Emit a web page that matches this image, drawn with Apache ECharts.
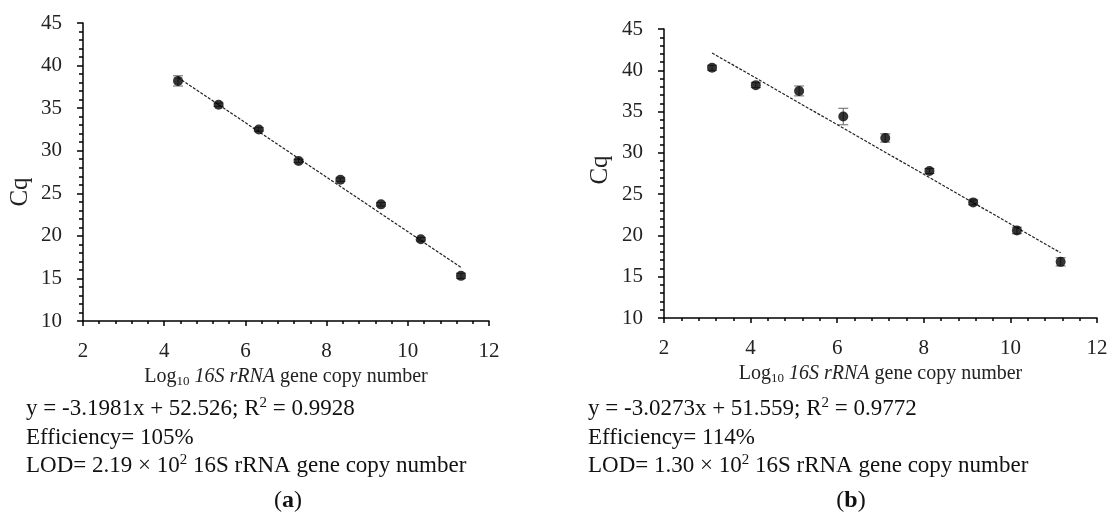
<!DOCTYPE html>
<html>
<head>
<meta charset="utf-8">
<script src="https://cdn.jsdelivr.net/npm/echarts@6/dist/echarts.min.js"></script>
<style>
  html, body { margin: 0; padding: 0; background: #fff; }
  #main { width: 1114px; height: 515px; }
</style>
</head>
<body>
<div id="main"></div>
<script>
// (a) standard curve
const xA = [4.34, 5.34, 6.33, 7.31, 8.34, 9.34, 10.32, 11.31];
const cqA = [38.2, 35.4, 32.5, 28.8, 26.6, 23.7, 19.6, 15.3];
const errA = [0.6, 0.2, 0.2, 0.2, 0.2, 0.2, 0.2, 0.3];
const trendXA = [4.34, 11.31];
const trendYA = [38.6, 16.3];

// (b) standard curve
const xB = [3.11, 4.12, 5.12, 6.14, 7.11, 8.13, 9.14, 10.15, 11.16];
const cqB = [40.3, 38.2, 37.5, 34.4, 31.8, 27.8, 24.0, 20.6, 16.8];
const errB = [0.3, 0.3, 0.6, 1.0, 0.5, 0.3, 0.3, 0.4, 0.5];
const trendXB = [3.11, 11.16];
const trendYB = [42.1, 17.9];

const xTicks = [2, 4, 6, 8, 10, 12];
const yTicks = [10, 15, 20, 25, 30, 35, 40, 45];

const FONT = '"Liberation Serif", "DejaVu Serif", serif';

var chart = echarts.init(document.getElementById('main'));

function zip(xs, ys) {
  return xs.map(function (x, i) { return [x, ys[i]]; });
}

function xAxisCfg(idx) {
  return {
    gridIndex: idx,
    type: 'value',
    min: xTicks[0],
    max: xTicks[xTicks.length - 1],
    interval: 2,
    name: '{n|Log}{sub|10}{it| 16S rRNA}{n| gene copy number}',
    nameLocation: 'middle',
    nameGap: 41,
    nameTextStyle: {
      rich: {
        n: { fontFamily: FONT, fontSize: 20, color: '#222', lineHeight: 22 },
        sub: { fontFamily: FONT, fontSize: 13, color: '#222', verticalAlign: 'bottom', lineHeight: 22 },
        it: { fontFamily: FONT, fontSize: 20, color: '#222', fontStyle: 'italic', lineHeight: 22 }
      }
    },
    axisLine: { onZero: false, lineStyle: { color: '#000', width: 1.5 } },
    axisTick: { show: true, inside: false, length: 5, lineStyle: { color: '#000', width: 1.5 } },
    minorTick: { show: true, splitNumber: 5, length: 3, lineStyle: { color: '#000', width: 1.5 } },
    axisLabel: { margin: 20, fontFamily: FONT, fontSize: 21, color: '#222' },
    splitLine: { show: false }
  };
}

function yAxisCfg(idx) {
  return {
    gridIndex: idx,
    type: 'value',
    min: yTicks[0],
    max: yTicks[yTicks.length - 1],
    interval: 5,
    axisLine: { onZero: false, lineStyle: { color: '#000', width: 1.5 } },
    axisTick: { show: true, inside: false, length: 6, lineStyle: { color: '#000', width: 1.5 } },
    minorTick: { show: true, splitNumber: 5, length: 4, lineStyle: { color: '#000', width: 1.5 } },
    axisLabel: { margin: 21, fontFamily: FONT, fontSize: 21, color: '#222' },
    splitLine: { show: false }
  };
}

// error bars drawn with axis coords
function errSeries(idx, xs, ys, es) {
  return {
    type: 'custom',
    xAxisIndex: idx,
    yAxisIndex: idx,
    z: 1,
    data: xs.map(function (x, i) { return [x, ys[i] - es[i], ys[i] + es[i]]; }),
    renderItem: function (params, api) {
      var lo = api.coord([api.value(0), api.value(1)]);
      var hi = api.coord([api.value(0), api.value(2)]);
      var w = 5;
      var st = { stroke: '#666', lineWidth: 1 };
      return {
        type: 'group',
        children: [
          { type: 'line', shape: { x1: lo[0], y1: lo[1], x2: hi[0], y2: hi[1] }, style: st },
          { type: 'line', shape: { x1: lo[0] - w, y1: lo[1], x2: lo[0] + w, y2: lo[1] }, style: st },
          { type: 'line', shape: { x1: hi[0] - w, y1: hi[1], x2: hi[0] + w, y2: hi[1] }, style: st }
        ]
      };
    }
  };
}

function trendSeries(idx, xs, ys) {
  return {
    type: 'line',
    xAxisIndex: idx,
    yAxisIndex: idx,
    data: zip(xs, ys),
    symbol: 'none',
    z: 2,
    lineStyle: { color: '#222', width: 1.2, type: [3, 1.5] },
    silent: true
  };
}

function dotSeries(idx, xs, ys) {
  return {
    type: 'scatter',
    xAxisIndex: idx,
    yAxisIndex: idx,
    data: zip(xs, ys),
    symbol: 'circle',
    symbolSize: 10,
    z: 3,
    itemStyle: { color: '#000' }
  };
}

function txt(x, y, text) {
  return {
    type: 'text',
    x: x,
    y: y,
    style: {
      text: text,
      fontFamily: FONT,
      fontSize: 23,
      fill: '#111',
      verticalAlign: 'middle',
      rich: supRich
    }
  };
}

var supRich = {
  t: { fontFamily: FONT, fontSize: 23, color: '#111', lineHeight: 26 },
  sup: { fontFamily: FONT, fontSize: 15, color: '#111', verticalAlign: 'top', lineHeight: 26 }
};

var labRich = { b: { fontFamily: FONT, fontSize: 24, fontWeight: 'bold', color: '#111' } };

var option = {
  animation: false,
  backgroundColor: '#fff',
  grid: [
    { left: 83, top: 23, width: 406, height: 298 },
    { left: 664, top: 29, width: 433, height: 289 }
  ],
  xAxis: [xAxisCfg(0), xAxisCfg(1)],
  yAxis: [yAxisCfg(0), yAxisCfg(1)],
  series: [
    errSeries(0, xA, cqA, errA),
    trendSeries(0, trendXA, trendYA),
    dotSeries(0, xA, cqA),
    errSeries(1, xB, cqB, errB),
    trendSeries(1, trendXB, trendYB),
    dotSeries(1, xB, cqB)
  ],
  graphic: [
    // y axis names
    { type: 'text', x: 20, y: 192, rotation: Math.PI / 2,
      style: { text: 'Cq', fontFamily: FONT, fontSize: 25, fill: '#222', align: 'center', verticalAlign: 'middle' } },
    { type: 'text', x: 600, y: 170, rotation: Math.PI / 2,
      style: { text: 'Cq', fontFamily: FONT, fontSize: 25, fill: '#222', align: 'center', verticalAlign: 'middle' } },

    // notes under (a)
    txt(26, 409, '{t|y = -3.1981x + 52.526; R}{sup|2}{t| = 0.9928}'),
    txt(26, 438, '{t|Efficiency= 105%}'),
    txt(26, 466, '{t|LOD= 2.19 × 10}{sup|2}{t| 16S rRNA gene copy number}'),
    { type: 'text', x: 288, y: 501,
      style: { text: '({b|a})', fontFamily: FONT, fontSize: 24, fill: '#111', align: 'center', verticalAlign: 'middle', rich: labRich } },

    // notes under (b)
    txt(588, 409, '{t|y = -3.0273x + 51.559; R}{sup|2}{t| = 0.9772}'),
    txt(588, 438, '{t|Efficiency= 114%}'),
    txt(588, 466, '{t|LOD= 1.30 × 10}{sup|2}{t| 16S rRNA gene copy number}'),
    { type: 'text', x: 851, y: 501,
      style: { text: '({b|b})', fontFamily: FONT, fontSize: 24, fill: '#111', align: 'center', verticalAlign: 'middle', rich: labRich } }
  ]
};

chart.setOption(option);
</script>
</body>
</html>
